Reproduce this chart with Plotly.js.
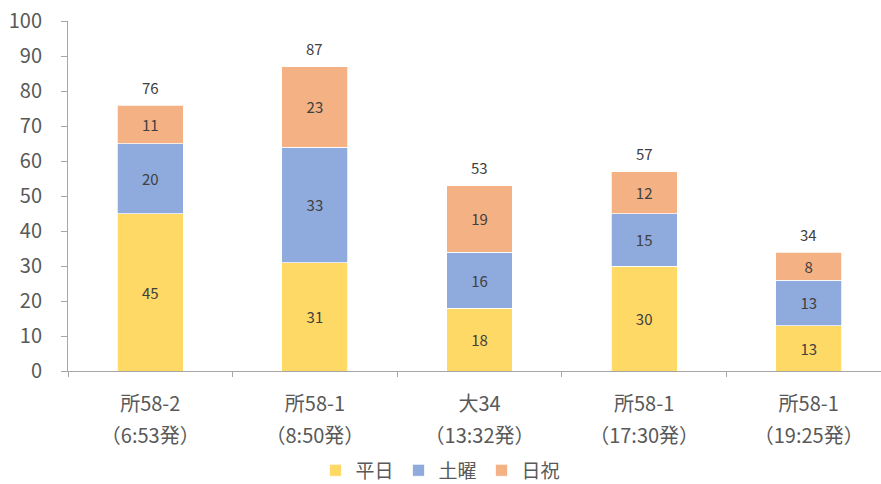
<!DOCTYPE html>
<html>
<head>
<meta charset="utf-8">
<script src="https://cdn.plot.ly/plotly-3.0.1.min.js"></script>
<style>
  html, body { margin: 0; padding: 0; background: #ffffff; }
  #chart { width: 881px; height: 484px; }
</style>
</head>
<body>
<div id="chart"></div>
<script>
// Route / departure labels (two lines per category)
const routes = ['所58-2', '所58-1', '大34', '所58-1', '所58-1'];
const departures = ['（6:53発）', '（8:50発）', '（13:32発）', '（17:30発）', '（19:25発）'];

// Series values
const weekday = [45, 31, 18, 30, 13];   // 平日
const saturday = [20, 33, 16, 15, 13];  // 土曜
const holiday = [11, 23, 19, 12, 8];    // 日祝

const seriesNames = ['平日', '土曜', '日祝'];
const seriesColors = ['#FFD966', '#8FAADC', '#F4B183'];

const yTicks = [0, 10, 20, 30, 40, 50, 60, 70, 80, 90, 100];

const FONT = '"Noto Sans CJK JP", "Noto Sans", sans-serif';
const idx = routes.map((_, i) => i);

function barTrace(values, k) {
  return {
    type: 'bar',
    name: seriesNames[k],
    x: idx,
    y: values,
    width: 0.4,
    marker: { color: seriesColors[k], line: { color: '#ffffff', width: 0.75 } },
    text: values.map(String),
    textposition: 'inside',
    insidetextanchor: 'middle',
    textangle: 0,
    constraintext: 'none',
    textfont: { family: FONT, size: 15, color: '#404040' },
    hoverinfo: 'skip'
  };
}

// Empty helper traces so the overlaid label / boundary-tick axes get drawn
function axisHolder(xa) {
  return { type: 'scatter', mode: 'markers', x: [], y: [], xaxis: xa, yaxis: 'y',
           showlegend: false, hoverinfo: 'skip' };
}

const traces = [
  barTrace(weekday, 0),
  barTrace(saturday, 1),
  barTrace(holiday, 2),
  axisHolder('x2'),
  axisHolder('x3')
];

// Total labels above each stack
const totals = idx.map(i => weekday[i] + saturday[i] + holiday[i]);
const annotations = idx.map(i => ({
  x: i, y: totals[i], xref: 'x', yref: 'y',
  text: String(totals[i]),
  showarrow: false,
  yshift: 18,
  font: { family: FONT, size: 15, color: '#404040' }
}));

const axisRange = [-0.5, 4.439];

const layout = {
  width: 881,
  height: 484,
  margin: { l: 68, r: 0, t: 21, b: 113 },
  paper_bgcolor: '#ffffff',
  plot_bgcolor: '#ffffff',
  barmode: 'stack',
  showlegend: true,
  legend: {
    orientation: 'h',
    traceorder: 'normal',
    xref: 'container', yref: 'container',
    x: 0.5, xanchor: 'center',
    y: 0.028, yanchor: 'middle',
    font: { family: FONT, size: 19, color: '#595959' },
    itemwidth: 30
  },
  xaxis: {
    type: 'linear',
    range: axisRange,
    tickmode: 'array',
    tickvals: idx,
    ticktext: routes,
    ticks: '',
    showline: true,
    linecolor: '#A6A6A6',
    linewidth: 1,
    showgrid: false,
    zeroline: false,
    ticklabelstandoff: 15,
    tickfont: { family: FONT, size: 20, color: '#595959' },
    fixedrange: true
  },
  xaxis2: {
    type: 'linear',
    overlaying: 'x',
    anchor: 'y',
    side: 'bottom',
    range: axisRange,
    tickmode: 'array',
    tickvals: idx,
    ticktext: departures,
    ticks: '',
    showline: false,
    showgrid: false,
    zeroline: false,
    ticklabelstandoff: 51,
    tickfont: { family: FONT, size: 20, color: '#595959' },
    fixedrange: true
  },
  xaxis3: {
    // category boundary tick marks
    type: 'linear',
    overlaying: 'x',
    anchor: 'y',
    side: 'bottom',
    range: axisRange,
    tickmode: 'array',
    tickvals: [-0.5, 0.5, 1.5, 2.5, 3.5],
    showticklabels: false,
    ticks: 'outside',
    ticklen: 5,
    tickcolor: '#A6A6A6',
    showline: false,
    showgrid: false,
    zeroline: false,
    fixedrange: true
  },
  yaxis: {
    range: [0, 100],
    tickmode: 'array',
    tickvals: yTicks,
    ticks: 'outside',
    ticklen: 6,
    tickcolor: '#A6A6A6',
    showline: true,
    linecolor: '#A6A6A6',
    linewidth: 1,
    showgrid: false,
    zeroline: false,
    ticklabelstandoff: 15,
    tickfont: { family: FONT, size: 20, color: '#595959' },
    fixedrange: true
  },
  annotations: annotations
};

Plotly.newPlot('chart', traces, layout, { displayModeBar: false, staticPlot: true });
</script>
</body>
</html>
